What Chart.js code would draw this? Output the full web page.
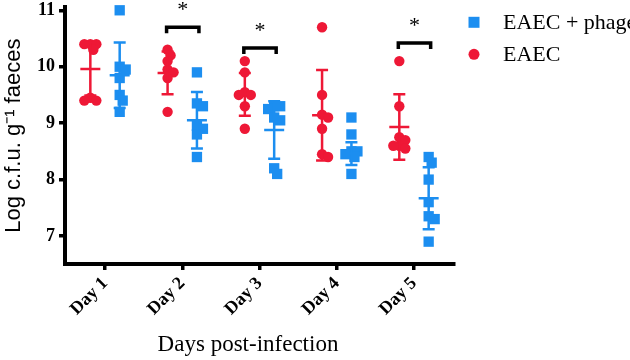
<!DOCTYPE html>
<html>
<head>
<meta charset="utf-8">
<script src="https://cdn.jsdelivr.net/npm/chart.js@4.4.1/dist/chart.umd.min.js"></script>
<style>
  html, body { margin: 0; padding: 0; background: #fff; }
</style>
</head>
<body>
<canvas id="chart" width="630" height="360"></canvas>
<script>
const days = [1, 2, 3, 4, 5];
const dayLabels = ['Day 1', 'Day 2', 'Day 3', 'Day 4', 'Day 5'];
const yTicks = [7, 8, 9, 10, 11];

// log c.f.u. per mouse, one row per day
const eaec = [
  [10.4, 10.4, 10.4, 10.3, 9.45, 9.4, 9.4],
  [10.3, 10.2, 10.1, 9.95, 9.9, 9.8, 9.2],
  [10.1, 9.9, 9.55, 9.5, 9.5, 9.3, 8.9],
  [10.7, 9.5, 9.15, 9.1, 8.9, 8.45, 8.4],
  [10.1, 9.3, 8.75, 8.7, 8.6, 8.6, 8.55]
];
const eaecMean = [9.96, 9.89, 9.51, 9.14, 8.93];
const eaecSD = [0.47, 0.38, 0.38, 0.80, 0.58];

const phage = [
  [11.0, 10.0, 9.95, 9.8, 9.5, 9.4, 9.2],
  [9.9, 9.35, 9.3, 8.95, 8.9, 8.8, 8.4],
  [9.3, 9.3, 9.25, 9.1, 9.05, 8.2, 8.1],
  [9.1, 8.8, 8.5, 8.5, 8.45, 8.4, 8.1],
  [8.4, 8.3, 8.0, 7.6, 7.35, 7.3, 6.9]
];
const phageMean = [9.85, 9.05, 8.88, 8.46, 7.67];
const phageSD = [0.58, 0.50, 0.51, 0.20, 0.55];

// significant differences (*) and the level of their brackets
const sigDays = [2, 3, 5];
const sigLevel = [10.7, 10.33, 10.42];

const red = '#EE1836';
const blue = '#1C8EF0';
const groups = [
  { label: 'EAEC + phage', values: phage, mean: phageMean, sd: phageSD, shift: 0.19, color: blue, style: 'rect', radius: 7.3 },
  { label: 'EAEC', values: eaec, mean: eaecMean, sd: eaecSD, shift: -0.19, color: red, style: 'circle', radius: 5.2 }
];

const toPoints = (rows, shift) =>
  rows.flatMap((vals, i) => vals.map(v => ({ x: days[i] + shift, y: v, day: days[i] })));

const marks = {
  id: 'marks',
  afterDatasetsDraw(chart) {
    const { ctx, scales: { x, y } } = chart;
    ctx.save();
    // mean +/- SD
    ctx.lineWidth = 2.5;
    groups.forEach(g => {
      ctx.strokeStyle = g.color;
      days.forEach((d, i) => {
        const cx = x.getPixelForValue(d + g.shift);
        const top = y.getPixelForValue(g.mean[i] + g.sd[i]);
        const bot = y.getPixelForValue(g.mean[i] - g.sd[i]);
        const mid = y.getPixelForValue(g.mean[i]);
        ctx.beginPath();
        ctx.moveTo(cx, top); ctx.lineTo(cx, bot);
        ctx.moveTo(cx - 6, top); ctx.lineTo(cx + 6, top);
        ctx.moveTo(cx - 6, bot); ctx.lineTo(cx + 6, bot);
        ctx.moveTo(cx - 10, mid); ctx.lineTo(cx + 10, mid);
        ctx.stroke();
      });
    });
    // brackets with stars
    ctx.strokeStyle = '#000';
    ctx.fillStyle = '#000';
    ctx.lineWidth = 3.5;
    ctx.font = '22px "Liberation Serif"';
    ctx.textAlign = 'center';
    ctx.textBaseline = 'alphabetic';
    sigDays.forEach((d, i) => {
      const x0 = x.getPixelForValue(d - 0.19) - 1;
      const x1 = x.getPixelForValue(d + 0.19) + 2;
      const yy = y.getPixelForValue(sigLevel[i]);
      ctx.beginPath();
      ctx.moveTo(x0, yy + 6); ctx.lineTo(x0, yy); ctx.lineTo(x1, yy); ctx.lineTo(x1, yy + 6);
      ctx.stroke();
      ctx.fillText('*', (x0 + x1) / 2, yy - 11);
    });
    ctx.restore();
  },
  afterDraw(chart) {
    const { ctx, chartArea } = chart;
    ctx.save();
    const lx = chartArea.right + 20;
    ctx.font = '22px "Liberation Serif"';
    ctx.textBaseline = 'middle';
    ctx.textAlign = 'left';
    groups.forEach((g, i) => {
      const ly = chartArea.top + 15 + i * 32;
      ctx.fillStyle = g.color;
      ctx.beginPath();
      if (g.style === 'rect') ctx.rect(lx - 5.5, ly - 5.5, 11, 11);
      else ctx.arc(lx, ly, 5.5, 0, Math.PI * 2);
      ctx.fill();
      ctx.fillStyle = '#000';
      ctx.fillText(g.label, lx + 29, ly + 1);
    });
    ctx.restore();
  }
};

const noPad = s => { s.paddingTop = 0; s.paddingBottom = 0; s.paddingLeft = 0; s.paddingRight = 0; };

const ctx = document.getElementById('chart').getContext('2d');
const chart = new Chart(ctx, {
  type: 'scatter',
  data: {
    datasets: groups.map(g => ({
      label: g.label,
      data: toPoints(g.values, g.shift),
      pointStyle: g.style,
      pointRadius: g.radius,
      backgroundColor: g.color,
      borderWidth: 0,
      clip: false
    }))
  },
  options: {
    responsive: false,
    animation: false,
    layout: { padding: { top: 7, right: 176, left: 0, bottom: 0 } },
    plugins: { legend: { display: false }, tooltip: { enabled: false } },
    scales: {
      x: {
        type: 'linear',
        min: 0.482,
        max: 5.518,
        afterBuildTicks: s => { s.ticks = days.map(v => ({ value: v })); },
        afterFit: s => { s.height = 96; noPad(s); },
        grid: { drawOnChartArea: false, tickLength: 6, lineWidth: 3.5, color: '#000' },
        border: { color: '#000', width: 4 },
        ticks: {
          autoSkip: false, maxRotation: 45, minRotation: 45, padding: 3, color: '#000',
          font: { family: 'Liberation Serif', size: 18, weight: 'bold' },
          callback: (v, i) => dayLabels[i]
        },
        title: {
          display: true, text: 'Days post-infection    ', color: '#000',
          font: { family: 'Liberation Serif', size: 23 }, padding: { top: 0, bottom: 1 }
        }
      },
      y: {
        min: 6.504,
        max: 11.053,
        afterBuildTicks: s => { s.ticks = yTicks.map(v => ({ value: v })); },
        afterFit: s => { s.width = 65; noPad(s); },
        grid: { drawOnChartArea: false, tickLength: 6, lineWidth: 3.5, color: '#000' },
        border: { color: '#000', width: 4 },
        ticks: {
          padding: 4, color: '#000',
          font: { family: 'Liberation Serif', size: 18, weight: 'bold' }
        },
        title: {
          display: true, text: 'Log c.f.u. g\u207B\u00B9 faeces', color: '#000',
          font: { family: 'Liberation Sans', size: 22 }, padding: { top: 1, bottom: 0 }
        }
      }
    }
  },
  plugins: [marks]
});

// spread tied values sideways so the dots do not hide each other
function spreadPoints(chart) {
  const xs = chart.scales.x, ys = chart.scales.y;
  chart.data.datasets.forEach((ds, di) => {
    const shift = groups[di].shift;
    days.forEach(d => {
      const placed = [];
      ds.data.filter(p => p.day === d).forEach(p => {
        const cx = xs.getPixelForValue(d + shift);
        const cy = ys.getPixelForValue(p.y);
        let off = 0;
        for (let k = 0; k < 20; k++) {
          off = k === 0 ? 0 : (k % 2 ? 1 : -1) * Math.ceil(k / 2) * 3;
          if (placed.every(q => Math.hypot(q.x - (cx + off), q.y - cy) >= 6)) break;
        }
        placed.push({ x: cx + off, y: cy });
        p.x = xs.getValueForPixel(cx + off);
      });
    });
  });
  chart.update('none');
}
spreadPoints(chart);
</script>
</body>
</html>
